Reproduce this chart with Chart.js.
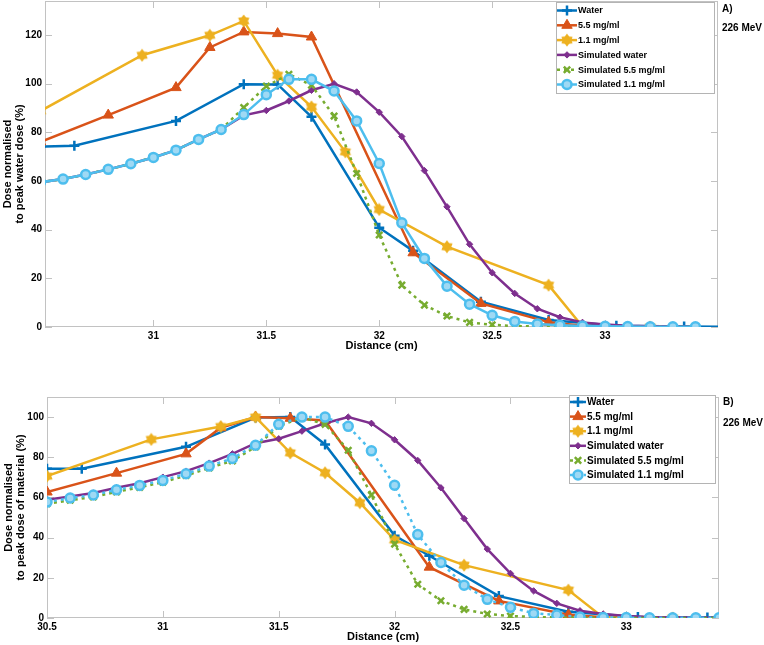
<!DOCTYPE html>
<html>
<head>
<meta charset="utf-8">
<script src="https://cdn.jsdelivr.net/npm/chart.js@4.4.1/dist/chart.umd.min.js"></script>
<style>
  body { margin: 0; background: #fff; }
  #wrap { position: relative; width: 764px; height: 645px; }
  canvas { position: absolute; left: 0; }
</style>
</head>
<body>
<div id="wrap">
  <canvas id="chartA" width="764" height="365" style="top:0"></canvas>
  <canvas id="chartB" width="764" height="280" style="top:365px"></canvas>
</div>
<script>
// series names (legend order)
const seriesNames = ['Water', '5.5 mg/ml', '1.1 mg/ml', 'Simulated water', 'Simulated 5.5 mg/ml', 'Simulated 1.1 mg/ml'];

// measured depths (cm)
const waterX  = [30.5, 30.65, 31.1, 31.4, 31.55, 31.7, 32.0, 32.15, 32.45, 32.75, 33.05, 33.35, 33.65];
const conc55X = [30.5, 30.8, 31.1, 31.25, 31.4, 31.55, 31.7, 32.15, 32.45, 32.75, 32.9, 33.2];
const conc11X = [30.5, 30.95, 31.25, 31.4, 31.55, 31.7, 31.85, 32.0, 32.3, 32.75, 32.9, 33.2];
// simulated depths (cm)
const simX = [30.5, 30.6, 30.7, 30.8, 30.9, 31.0, 31.1, 31.2, 31.3, 31.4, 31.5, 31.6, 31.7, 31.8, 31.9,
              32.0, 32.1, 32.2, 32.3, 32.4, 32.5, 32.6, 32.7, 32.8, 32.9, 33.0, 33.1, 33.2, 33.3, 33.4];

// A) dose normalised to peak water dose (%)
const waterA    = [74.2, 74.5, 84.7, 99.8, 99.7, 86.4, 40.8, 31.3, 10.4, 2.9, 0.5, 0.2, 0.1];
const conc55A   = [76.1, 87.1, 98.4, 114.9, 121.3, 120.6, 119.2, 30.5, 9.7, 2.0, 0.5, 0.0];
const conc11A   = [88.8, 111.7, 119.9, 125.8, 103.5, 90.5, 72.0, 48.3, 33.0, 17.2, 0.2, 0.0];
const simWaterA = [59.5, 60.8, 62.7, 64.8, 67.1, 69.7, 72.7, 77.1, 81.2, 87.0, 89.0, 92.9, 97.3, 100.0, 96.6,
                   88.3, 78.3, 64.3, 49.4, 34.0, 22.3, 13.8, 7.5, 4.0, 1.9, 1.0, 0.5, 0.3, 0.2, 0.1];
const sim55A    = [59.5, 60.8, 62.7, 64.8, 67.1, 69.7, 72.7, 77.1, 81.2, 90.2, 99.0, 103.9, 99.4, 86.7, 63.1,
                   37.8, 17.2, 9.0, 4.5, 1.9, 0.9, 0.4, 0.2, 0.1, 0.1, 0.0, 0.0, 0.0, 0.0, 0.0];
const sim11A    = [59.5, 60.8, 62.7, 64.8, 67.1, 69.7, 72.7, 77.1, 81.2, 87.3, 95.5, 101.8, 101.8, 97.0, 84.7,
                   67.2, 42.8, 28.2, 16.8, 9.4, 4.8, 2.3, 1.2, 0.7, 0.4, 0.3, 0.2, 0.1, 0.1, 0.1];

// B) dose normalised to peak dose of material (%)
const waterB    = [74.3, 74.3, 85.2, 99.8, 100.0, 86.4, 41.0, 31.0, 10.9, 3.1, 0.5, 0.2, 0.1];
const conc55B   = [62.7, 72.1, 81.7, 94.7, 100.0, 99.4, 98.3, 25.3, 8.5, 1.6, 0.4, 0.0];
const conc11B   = [70.6, 88.9, 95.3, 100.0, 82.2, 72.3, 57.4, 38.8, 26.3, 13.9, 0.3, 0.0];
const simWaterB = [58.9, 60.5, 62.2, 64.8, 67.1, 70.1, 73.1, 77.1, 81.7, 87.0, 89.2, 93.0, 96.9, 100.0, 96.9,
                   88.7, 78.4, 64.8, 49.5, 34.3, 22.2, 13.5, 7.3, 3.6, 2.0, 1.0, 0.5, 0.3, 0.2, 0.1];
const sim55B    = [56.9, 58.6, 60.3, 62.8, 65.0, 67.6, 70.9, 74.7, 78.2, 85.2, 95.5, 99.8, 96.4, 83.5, 61.2,
                   36.8, 16.8, 8.6, 4.3, 2.0, 1.0, 0.5, 0.3, 0.2, 0.1, 0.0, 0.0, 0.0, 0.0, 0.0];
const sim11B    = [57.7, 59.7, 61.2, 63.8, 66.0, 68.5, 71.8, 75.6, 79.4, 86.0, 96.4, 100.0, 100.0, 95.4, 83.2,
                   66.1, 41.5, 27.6, 16.3, 9.3, 5.3, 2.3, 1.5, 0.5, 0.3, 0.2, 0.1, 0.1, 0.1, 0.1];

// tick labels
const xTicksA = [31, 31.5, 32, 32.5, 33];
const xTicksB = [30.5, 31, 31.5, 32, 32.5, 33];
const yTicksA = [0, 20, 40, 60, 80, 100, 120];
const yTicksB = [0, 20, 40, 60, 80, 100];

const FONT = "'Liberation Sans', Arial, Helvetica, sans-serif";
const colors = ['#0072BD', '#D95319', '#EDB120', '#7E2F8E', '#77AC30', '#4DBEEE'];

// filled six-point star for the 1.1 mg/ml marker
function hexagram(color, r) {
  const c = document.createElement('canvas');
  const s = Math.ceil(r * 2 + 3);
  c.width = c.height = s;
  const g = c.getContext('2d');
  const m = s / 2;
  g.beginPath();
  for (let k = 0; k < 12; k++) {
    const ang = -Math.PI / 2 + k * Math.PI / 6;
    const rr = k % 2 === 0 ? r : r * 0.66;
    g.lineTo(m + rr * Math.cos(ang), m + rr * Math.sin(ang));
  }
  g.closePath();
  g.fillStyle = color; g.fill();
  g.strokeStyle = color; g.lineWidth = 1.2; g.stroke();
  return c;
}

function pts(xs, ys) {
  return xs.map((x, i) => ({ x: x, y: ys[i] }));
}

function makeDatasets(vals, cyanDotted) {
  const xs = [waterX, conc55X, conc11X, simX, simX, simX];
  const dots = [3, 4];
  const markers = [
    { pointStyle: 'cross', pointRadius: 5, pointBorderWidth: 2.5, pointBackgroundColor: colors[0] },
    { pointStyle: 'triangle', pointRadius: 6, pointBorderWidth: 1, pointBackgroundColor: colors[1] },
    { pointStyle: hexagram(colors[2], 5.5), pointRadius: 5.5, pointBorderWidth: 0, pointBackgroundColor: colors[2] },
    { pointStyle: 'rectRot', pointRadius: 3.2, pointBorderWidth: 1, pointBackgroundColor: colors[3] },
    { pointStyle: 'crossRot', pointRadius: 4.5, pointBorderWidth: 2.5, pointBackgroundColor: colors[4] },
    { pointStyle: 'circle', pointRadius: 4.5, pointBorderWidth: 2.5, pointBackgroundColor: '#9fd9f4' }
  ];
  return seriesNames.map((name, i) => Object.assign({
    label: name,
    data: pts(xs[i], vals[i]),
    borderColor: colors[i],
    pointBorderColor: colors[i],
    borderWidth: 2.5,
    borderDash: (i === 4 || (i === 5 && cyanDotted)) ? dots : [],
    tension: 0,
    order: 6 - i
  }, markers[i]));
}

const frame = {
  id: 'frame',
  beforeDatasetsDraw(chart) {
    const { ctx, chartArea: a, scales: { x, y } } = chart;
    ctx.save();
    ctx.strokeStyle = '#c2c2c2';
    ctx.lineWidth = 1;
    ctx.strokeRect(Math.round(a.left) + 0.5, Math.round(a.top) + 0.5, Math.round(a.width) - 1, Math.round(a.height) - 1);
    ctx.beginPath();
    x.ticks.forEach(t => {
      const px = Math.round(x.getPixelForValue(t.value)) + 0.5;
      ctx.moveTo(px, a.bottom); ctx.lineTo(px, a.bottom - 7);
      ctx.moveTo(px, a.top); ctx.lineTo(px, a.top + 7);
    });
    y.ticks.forEach(t => {
      const py = Math.round(y.getPixelForValue(t.value)) + 0.5;
      ctx.moveTo(a.left, py); ctx.lineTo(a.left + 7, py);
      ctx.moveTo(a.right, py); ctx.lineTo(a.right - 7, py);
    });
    ctx.stroke();
    ctx.restore();
  },
  afterDraw(chart, args, o) {
    const ctx = chart.ctx;
    const L = o.legend;
    ctx.save();
    // legend box
    ctx.fillStyle = '#fff';
    ctx.fillRect(L.x, L.y, L.w, L.h);
    ctx.strokeStyle = '#b4b4b4';
    ctx.lineWidth = 1;
    ctx.strokeRect(L.x + 0.5, L.y + 0.5, L.w, L.h);
    ctx.font = 'bold ' + L.size + 'px ' + FONT;
    ctx.textBaseline = 'middle';
    ctx.textAlign = 'left';
    chart.data.datasets.forEach((ds, i) => {
      const yy = L.y + L.first + i * L.row;
      ctx.strokeStyle = ds.borderColor;
      ctx.lineWidth = ds.borderWidth;
      ctx.setLineDash(ds.borderDash);
      ctx.beginPath();
      ctx.moveTo(L.x + 1, yy); ctx.lineTo(L.x + 1 + L.sample, yy);
      ctx.stroke();
      ctx.setLineDash([]);
      ctx.fillStyle = ds.pointBackgroundColor;
      ctx.strokeStyle = ds.pointBorderColor;
      ctx.lineWidth = ds.pointBorderWidth;
      Chart.helpers.drawPoint(ctx, {
        pointStyle: ds.pointStyle, radius: ds.pointRadius, rotation: 0, borderWidth: ds.pointBorderWidth
      }, L.x + 1 + L.sample / 2, yy);
      ctx.fillStyle = '#000';
      ctx.fillText(ds.label, L.x + 2 + L.sample, yy + 0.5);
    });
    // panel tag and energy
    ctx.font = 'bold 10px ' + FONT;
    ctx.fillStyle = '#000';
    ctx.fillText(o.panel, o.sideX, o.panelY);
    ctx.fillText('226 MeV', o.sideX, o.energyY);
    ctx.restore();
  }
};

function axes(xMin, xMax, yMax, xTicks, yTicks, yWidth, yTitle, yTitlePad) {
  return {
    x: {
      type: 'linear', min: xMin, max: xMax,
      afterBuildTicks: s => { s.ticks = xTicks.map(v => ({ value: v })); },
      afterFit: s => { s.height = 25; s.paddingLeft = 0; s.paddingRight = 0; },
      grid: { display: false, drawTicks: false }, border: { display: false },
      ticks: { color: '#000', font: { family: FONT, size: 10, weight: 'bold' }, padding: 3, maxRotation: 0, autoSkip: false,
               callback: v => String(v) },
      title: { display: true, text: 'Distance (cm)', color: '#000',
               font: { family: FONT, size: 11, weight: 'bold', lineHeight: '12px' }, padding: { top: 0, bottom: 0 } }
    },
    y: {
      type: 'linear', min: 0, max: yMax,
      afterBuildTicks: s => { s.ticks = yTicks.map(v => ({ value: v })); },
      afterFit: s => { s.width = yWidth; s.paddingTop = 0; s.paddingBottom = 0; },
      grid: { display: false, drawTicks: false }, border: { display: false },
      ticks: { color: '#000', font: { family: FONT, size: 10, weight: 'bold' }, padding: 3,
               callback: v => String(v) },
      title: { display: true, text: yTitle, color: '#000',
               font: { family: FONT, size: 11, weight: 'bold', lineHeight: '12px' }, padding: { top: yTitlePad, bottom: 0 } }
    }
  };
}

function baseOptions(padding, scales, frameOpts) {
  return {
    responsive: false, animation: false, events: [],
    layout: { padding: padding, autoPadding: false },
    scales: scales,
    plugins: { legend: { display: false }, tooltip: { enabled: false }, frame: frameOpts }
  };
}

new Chart(document.getElementById('chartA'), {
  type: 'line',
  data: { datasets: makeDatasets([waterA, conc55A, conc11A, simWaterA, sim55A, sim11A], false) },
  options: baseOptions({ left: 0, right: 46, top: 1, bottom: 13 },
    axes(30.52, 33.5, 134, xTicksA, yTicksA, 45, ['Dose normalised', 'to peak water dose (%)'], 1.5),
    { legend: { x: 556, y: 2, w: 158, h: 91, first: 8.5, row: 14.8, sample: 20, size: 9 },
      panel: 'A)', sideX: 722, panelY: 9, energyY: 28 }),
  plugins: [frame]
});

new Chart(document.getElementById('chartB'), {
  type: 'line',
  data: { datasets: makeDatasets([waterB, conc55B, conc11B, simWaterB, sim55B, sim11B], true) },
  options: baseOptions({ left: 0, right: 45, top: 32, bottom: 2 },
    axes(30.5, 33.4, 110, xTicksB, yTicksB, 47, ['Dose normalised', 'to peak dose of material (%)'], 3),
    { legend: { x: 569, y: 30, w: 146, h: 88, first: 7, row: 14.6, sample: 16, size: 10 },
      panel: 'B)', sideX: 723, panelY: 37, energyY: 58 }),
  plugins: [frame]
});
</script>
</body>
</html>
